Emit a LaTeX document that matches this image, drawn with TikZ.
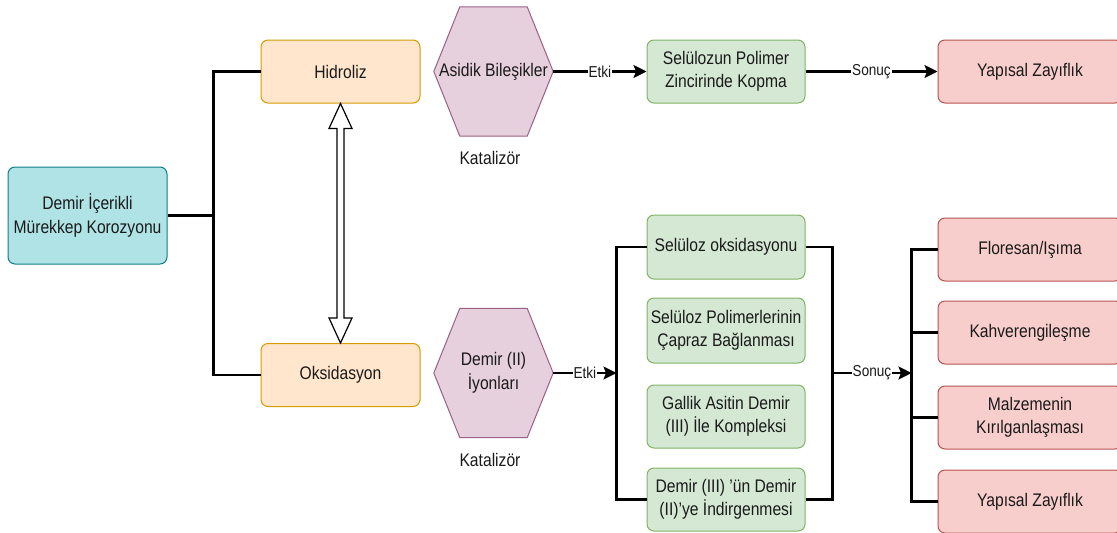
\documentclass[tikz,border=0pt]{standalone}
\usepackage{fontspec}
\setmainfont{Liberation Sans}[FakeStretch=0.86]
\usetikzlibrary{arrows.meta,calc,backgrounds}
\definecolor{cyanF}{HTML}{B0E3E6}\definecolor{cyanD}{HTML}{0E8088}
\definecolor{oraF}{HTML}{FFE6CC}\definecolor{oraD}{HTML}{D79B00}
\definecolor{purF}{HTML}{E6D0DE}\definecolor{purD}{HTML}{996185}
\definecolor{grnF}{HTML}{D5E8D4}\definecolor{grnD}{HTML}{82B366}
\definecolor{redF}{HTML}{F8CECC}\definecolor{redD}{HTML}{B85450}
\definecolor{txt}{HTML}{1A1A1A}
\tikzset{
  every node/.style={font=\fontsize{18.2}{23.5}\selectfont, text=txt},
  box/.style={draw, rounded corners=7pt, line width=1pt, align=center, inner sep=0pt},
  cyanbox/.style={box, fill=cyanF, draw=cyanD, minimum width=159pt, minimum height=97pt},
  orabox/.style={box, fill=oraF, draw=oraD, minimum width=159pt, minimum height=63pt},
  grnbox/.style={box, fill=grnF, draw=grnD, minimum width=158pt, minimum height=63pt},
  redbox/.style={box, fill=redF, draw=redD, minimum width=184pt, minimum height=63pt},
  hexbase/.style={minimum width=119pt, minimum height=129pt, inner sep=0pt, align=center},
  hexshape/.style={fill=purF, draw=purD, line width=1pt, line join=round},
  conn/.style={line width=2.4pt, black},
  arr/.style={conn, -{Stealth[length=13pt,width=13pt,inset=2.5pt]}},
  lbl/.style={fill=white, inner sep=1pt, font=\fontsize{15.8}{17}\selectfont},
  plain/.style={inner sep=0pt}
}
\begin{document}
\begin{tikzpicture}[x=1pt,y=-1pt]
\useasboundingbox (0,0) rectangle (1117,533);

% nodes
\node[cyanbox] (d) at (87.5,215.5) {Demir İçerikli\\Mürekkep Korozyonu};
\node[orabox] (h) at (340.5,71.5) {Hidroliz};
\node[orabox] (o) at (340.5,375) {Oksidasyon};

\node[hexbase] (hx1) at (493.5,71.5) {Asidik Bileşikler};
\node[hexbase] (hx2) at (493.5,373) {Demir (II)\\İyonları};
\begin{scope}[on background layer]
\fill[white] (0,0) rectangle (1117,533);
\filldraw[hexshape] (hx1.west) -- ($(hx1.north west)+(26,0)$) -- ($(hx1.north east)+(-26,0)$) -- (hx1.east) -- ($(hx1.south east)+(-26,0)$) -- ($(hx1.south west)+(26,0)$) -- cycle;
\filldraw[hexshape] (hx2.west) -- ($(hx2.north west)+(26,0)$) -- ($(hx2.north east)+(-26,0)$) -- (hx2.east) -- ($(hx2.south east)+(-26,0)$) -- ($(hx2.south west)+(26,0)$) -- cycle;
\end{scope}
\node[plain] (k1) at (490,158) {Katalizör};
\node[plain] (k2) at (490,460) {Katalizör};

\node[grnbox] (s1) at (726,71.5) {Selülozun Polimer\\Zincirinde Kopma};
\node[redbox] (y1) at (1030,71.5) {Yapısal Zayıflık};

\node[grnbox, minimum height=64pt] (g1) at (726,247) {Selüloz oksidasyonu};
\node[grnbox, minimum height=65pt] (g2) at (726,330.5) {Selüloz Polimerlerinin\\Çapraz Bağlanması};
\node[grnbox] (g3) at (726,416.5) {Gallik Asitin Demir\\(III) İle Kompleksi};
\node[grnbox] (g4) at (726,499.5) {Demir (III) 'ün Demir\\(II)'ye İndirgenmesi};

\node[redbox] (r1) at (1030,249.5) {Floresan/Işıma};
\node[redbox] (r2) at (1030,332.5) {Kahverengileşme};
\node[redbox] (r3) at (1030,417.5) {Malzemenin\\Kırılganlaşması};
\node[redbox] (r4) at (1030,501.5) {Yapısal Zayıflık};

% connectors
\coordinate (lj) at ($(d.east)+(46,0)$);
\draw[conn] (d.east) -- (lj) |- (h.west);
\draw[conn] (lj) |- (o.west);

\filldraw[fill=white, draw=black, line width=1.2pt, line join=miter]
  (h.south) -- ++(11.5,25) -- ++(-8,0) -- ($(o.north)+(3.5,-25)$) -- ++(8,0)
  -- (o.north) -- ++(-11.5,-25) -- ++(8,0) -- ($(h.south)+(-3.5,25)$) -- ++(-8,0) -- cycle;

\draw[arr] (hx1.east) -- node[lbl] (e1) {Etki} (s1.west);
\draw[arr] (s1.east) -- node[lbl] (so1) {Sonuç} (y1.west);

\coordinate (lb) at ($(g1.west)+(-30,0)$);
\coordinate (rb) at ($(g1.east)+(27,0)$);
\coordinate (rr) at ($(r1.west)+(-26,0)$);
\draw[conn] (g1.west) -- (lb) |- (g4.west);
\draw[conn] (g1.east) -- (rb) |- (g4.east);
\draw[arr] (hx2.east) -- node[lbl] (e2) {Etki} (hx2.east -| lb);
\draw[arr] (rb |- hx2.east) -- node[lbl] (so2) {Sonuç} (rr |- hx2.east);
\draw[conn] (r1.west) -- (rr) |- (r4.west);
\draw[conn] (rr |- r2.west) -- (r2.west);
\draw[conn] (rr |- r3.west) -- (r3.west);
\end{tikzpicture}
\end{document}
